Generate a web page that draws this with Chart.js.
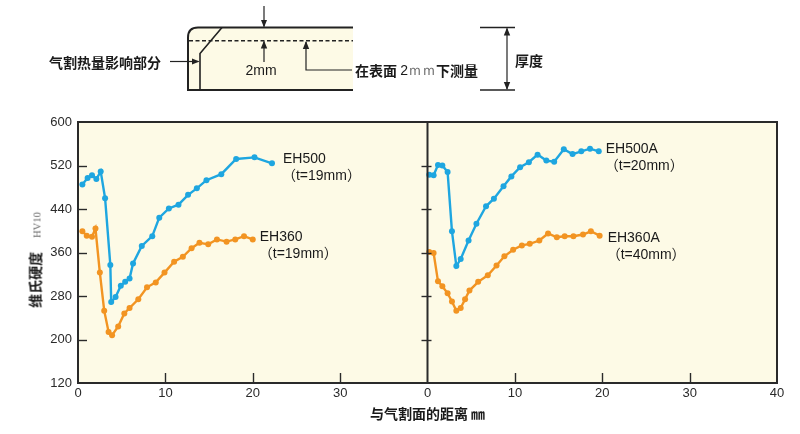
<!DOCTYPE html>
<html>
<head>
<meta charset="utf-8">
<script src="https://cdn.jsdelivr.net/npm/chart.js@4.4.1/dist/chart.umd.min.js"></script>
<style>
html,body{margin:0;padding:0;background:#fff;}
#wrap{position:relative;width:800px;height:434px;overflow:hidden;}
#chart{position:absolute;left:0;top:0;}
#diagram{position:absolute;left:0;top:0;}
#ytitle{position:absolute;left:36px;top:260px;transform:translate(-50%,-50%) rotate(-90deg);white-space:nowrap;
  font-family:"Noto Sans CJK SC","Noto Sans",sans-serif;font-weight:bold;font-size:14px;color:#1a1a1a;line-height:16px;}
#ytitle .hv{font-family:"Liberation Serif","DejaVu Serif",serif;font-weight:normal;font-size:10.5px;color:#666;margin-left:14px;}
</style>
</head>
<body>
<div id="wrap">
<canvas id="chart" width="800" height="434"></canvas>
<svg id="diagram" width="800" height="112" viewBox="0 0 800 112" xmlns="http://www.w3.org/2000/svg">
  <defs>
    <marker id="ah" markerWidth="8" markerHeight="8" refX="7" refY="4" orient="auto" markerUnits="userSpaceOnUse">
      <path d="M0,0.8 L8,4 L0,7.2 Z" fill="#222"/>
    </marker>
  </defs>
  <path d="M353,27.5 L198,27.5 Q188,27.5 188,37.5 L188,90 L353,90 Z" fill="#fdfae6" stroke="none"/>
  <path d="M353,27.5 L198,27.5 Q188,27.5 188,37.5 L188,90 L353,90" fill="none" stroke="#222" stroke-width="2"/>
  <line x1="189" y1="40.7" x2="353" y2="40.7" stroke="#222" stroke-width="1.6" stroke-dasharray="4,2.5"/>
  <polyline points="222,27.5 200,53.5 200,90" fill="none" stroke="#222" stroke-width="1.6"/>
  <line x1="264" y1="6" x2="264" y2="26.5" stroke="#222" stroke-width="1.2" marker-end="url(#ah)"/>
  <line x1="264" y1="62" x2="264" y2="41.5" stroke="#222" stroke-width="1.2" marker-end="url(#ah)"/>
  <polyline points="352,70 306,70 306,42" fill="none" stroke="#222" stroke-width="1.2" marker-end="url(#ah)"/>
  <line x1="170" y1="61.5" x2="198.5" y2="61.5" stroke="#222" stroke-width="1.2" marker-end="url(#ah)"/>
  <line x1="480" y1="27.5" x2="515" y2="27.5" stroke="#222" stroke-width="1.4"/>
  <line x1="480" y1="90" x2="515" y2="90" stroke="#222" stroke-width="1.4"/>
  <line x1="507" y1="50" x2="507" y2="28.5" stroke="#222" stroke-width="1.2" marker-end="url(#ah)"/>
  <line x1="507" y1="50" x2="507" y2="89" stroke="#222" stroke-width="1.2" marker-end="url(#ah)"/>
  <g font-family="Noto Sans CJK SC, Noto Sans, sans-serif" font-size="14" font-weight="bold" fill="#1a1a1a" dominant-baseline="central">
    <text x="49" y="61.5">气割热量影响部分</text>
    <text x="515" y="60">厚度</text>
    <text x="355" y="69.5">在表面 <tspan font-family="Liberation Sans, Arial, sans-serif" font-weight="normal" font-size="14">2</tspan><tspan font-family="Liberation Serif, serif" font-weight="normal" font-size="14" fill="#666">ｍｍ</tspan>下测量</text>
  </g>
  <text x="261" y="70" font-family="Liberation Sans, Arial, sans-serif" font-size="14" fill="#1a1a1a" text-anchor="middle" dominant-baseline="central">2mm</text>
</svg>
<div id="ytitle">维氏硬度<span class="hv">HV10</span></div>
</div>
<script>
// ---- data (distance from gas-cut face, mm ; Vickers hardness HV10) ----
const xTickLabels = ['0','10','20','30','0','10','20','30','40'];
const yTicks = [120, 200, 280, 360, 440, 520, 600];
const rightPanelOffset = 40;

const eh500X = [0.5,1.1,1.6,2.1,2.6,3.1,3.7,3.8,4.3,4.9,5.4,5.9,6.3,7.3,8.5,9.3,10.4,11.5,12.6,13.6,14.7,16.4,18.1,20.2,22.2];
const eh500Y = [485,497,502,495,509,460,337,269,278,299,306,312,340,372,390,424,441,448,466,478,493,504,532,535,524];

const eh360X = [0.5,1.0,1.6,2.0,2.5,3.0,3.5,3.9,4.6,5.3,5.9,6.9,7.9,8.9,9.9,11.0,12.0,13.0,13.9,14.9,15.9,17.0,18.0,19.0,20.0];
const eh360Y = [399,391,389,404,323,253,214,208,224,248,258,274,296,305,323,343,352,368,378,375,384,380,384,390,384];

const eh500aX = [0.2,0.7,1.2,1.7,2.3,2.8,3.3,3.8,4.7,5.6,6.7,7.6,8.7,9.6,10.6,11.6,12.6,13.6,14.5,15.6,16.6,17.6,18.6,19.6];
const eh500aY = [503,502,521,520,508,399,335,348,382,413,445,459,482,500,517,526,540,529,527,550,541,546,551,546];

const eh360aX = [0.2,0.7,1.2,1.7,2.3,2.8,3.3,3.8,4.3,4.8,5.8,6.9,7.9,8.8,9.8,10.8,11.7,12.8,13.8,14.8,15.7,16.7,17.8,18.7,19.7];
const eh360aY = [361,359,307,298,285,270,253,258,274,290,306,318,336,353,365,373,376,382,395,388,390,390,393,399,391];

const seriesNames = ['EH500','EH360','EH500A','EH360A'];
const seriesNotes = ['（t=19mm）','（t=19mm）','（t=20mm）','（t=40mm）'];

const BLUE = '#1ea6e0', ORANGE = '#f29422';

function pts(xs, ys, off){ return xs.map((v,i)=>({x:v+off, y:ys[i]})); }
function ds(label, data, color){
  return {label, data, borderColor:color, backgroundColor:color, borderWidth:2.4,
    pointRadius:3, pointHoverRadius:3, pointBorderWidth:0, tension:0};
}

const framePlugin = {
  id:'frame',
  beforeDraw(c){
    const {ctx, chartArea:a} = c;
    ctx.save(); ctx.fillStyle = '#fdfae6';
    ctx.fillRect(a.left, a.top, a.width, a.height); ctx.restore();
  },
  afterDraw(c){
    const {ctx, chartArea:a, scales:{x, y}} = c;
    ctx.save();
    ctx.strokeStyle = '#2a2a2a';
    ctx.lineWidth = 1.4;
    const xd = x.getPixelForValue(rightPanelOffset);
    yTicks.forEach(v=>{
      if (v === y.min || v === y.max) return;
      const py = Math.round(y.getPixelForValue(v)) + 0.5;
      ctx.beginPath(); ctx.moveTo(a.left, py); ctx.lineTo(a.left + 9, py); ctx.stroke();
      ctx.beginPath(); ctx.moveTo(xd - 6, py); ctx.lineTo(xd + 4, py); ctx.stroke();
    });
    x.ticks.forEach(t=>{
      if (t.value === x.min || t.value === x.max || t.value === rightPanelOffset) return;
      const px = Math.round(x.getPixelForValue(t.value)) + 0.5;
      ctx.beginPath(); ctx.moveTo(px, a.bottom); ctx.lineTo(px, a.bottom - 10); ctx.stroke();
    });
    ctx.lineWidth = 2;
    ctx.strokeRect(a.left, a.top, a.width, a.height);
    ctx.beginPath(); ctx.moveTo(xd, a.top); ctx.lineTo(xd, a.bottom); ctx.stroke();
    ctx.fillStyle = '#1a1a1a';
    ctx.textBaseline = 'middle';
    const offs = [[11,-4],[7,-2],[7,-2],[8,2]];
    c.data.datasets.forEach((d, i)=>{
      const last = d.data[d.data.length - 1];
      const px = x.getPixelForValue(last.x) + offs[i][0];
      const py = y.getPixelForValue(last.y) + offs[i][1];
      ctx.font = '14px "Liberation Sans", Arial, sans-serif';
      ctx.fillText(seriesNames[i], px, py);
      ctx.font = '14px "Liberation Sans", "Noto Sans CJK SC", sans-serif';
      ctx.fillText(seriesNotes[i], px - 1, py + 17);
    });
    ctx.restore();
  }
};

new Chart(document.getElementById('chart'), {
  type:'line',
  data:{ datasets:[
    ds('EH500', pts(eh500X, eh500Y, 0), BLUE),
    ds('EH360', pts(eh360X, eh360Y, 0), ORANGE),
    ds('EH500A', pts(eh500aX, eh500aY, rightPanelOffset), BLUE),
    ds('EH360A', pts(eh360aX, eh360aY, rightPanelOffset), ORANGE)
  ]},
  options:{
    responsive:false, animation:false,
    layout:{padding:{top:122, right:23, left:0, bottom:0}},
    plugins:{legend:{display:false}, tooltip:{enabled:false}},
    scales:{
      x:{type:'linear', min:0, max:80,
        afterFit(s){ s.height = 51; },
        afterBuildTicks(s){ s.ticks = xTickLabels.map((_,i)=>({value:i*10})); },
        ticks:{stepSize:10, autoSkip:false, maxRotation:0, padding:3, color:'#2a2a2a',
          font:{family:'"Liberation Sans", Arial, sans-serif', size:13},
          callback:(v)=> xTickLabels[Math.round(v/10)]},
        grid:{display:false, drawTicks:false},
        border:{display:false},
        title:{display:true, text:'与气割面的距离 ㎜', color:'#1a1a1a', padding:{top:6, bottom:12},
          font:{family:'"Noto Sans CJK SC", sans-serif', size:14, weight:'bold'}}
      },
      y:{type:'linear', min:120, max:600,
        afterFit(s){ s.width = 78; },
        afterBuildTicks(s){ s.ticks = yTicks.map(v=>({value:v})); },
        ticks:{stepSize:80, padding:6, color:'#2a2a2a',
          font:{family:'"Liberation Sans", Arial, sans-serif', size:13}},
        grid:{display:false, drawTicks:false},
        border:{display:false}
      }
    }
  },
  plugins:[framePlugin]
});
</script>
</body>
</html>
